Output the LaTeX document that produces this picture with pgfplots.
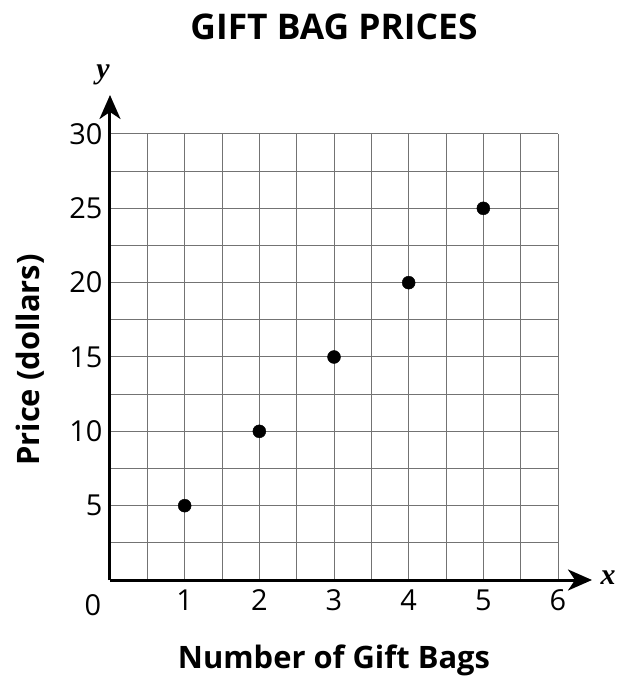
\documentclass[border=0pt]{standalone}
\usepackage{pgfplots}
\pgfplotsset{compat=1.18}
\usepackage{fontspec}
\setmainfont{Open Sans}
\newfontfamily\serifit{Liberation Serif}
\usetikzlibrary{arrows.meta}
\begin{document}
\begin{tikzpicture}
\begin{axis}[
 anchor=origin, at={(0,0)},
 scale only axis, width=448bp, height=446bp,
 xmin=0,xmax=6,ymin=0,ymax=30,
 axis lines=left,
 axis line style={line width=3bp, black},
 x axis line style={-{Stealth[length=24bp,width=21bp,inset=7bp]}, shorten >=-34bp},
 y axis line style={-{Stealth[length=24bp,width=21bp,inset=7bp]}, shorten >=-39bp},
 xtick={1,2,3,4,5,6}, ytick={5,10,15,20,25,30},
 minor xtick={0.5,1.5,2.5,3.5,4.5,5.5},
 minor ytick={2.5,7.5,12.5,17.5,22.5,27.5},
 grid=both,
 grid style={black!55, line width=1bp},
 major grid style={black!55, line width=1bp},
 minor grid style={black!55, line width=1bp},
 major tick length=0pt, minor tick length=0pt,
 tick label style={font=\fontsize{29}{29}\selectfont},
 xticklabel style={yshift=-6bp},
 yticklabel style={xshift=-4bp},
 /pgf/number format/assume math mode=true,
 clip=false,
]
\addplot[only marks, mark=*, mark size=6.5bp, black] coordinates {(1,5)(2,10)(3,15)(4,20)(5,25)};
\end{axis}
\node[font=\fontsize{35.5}{35.5}\selectfont\bfseries] at (224bp,553bp) {GIFT BAG PRICES};
\node[font=\fontsize{31}{31}\selectfont\bfseries, rotate=90] at (-80bp,220bp) {Price (dollars)};
\node[font=\fontsize{31}{31}\selectfont\bfseries] at (224bp,-80bp) {Number of Gift Bags};
\node[font=\fontsize{29}{29}\selectfont] at (-17bp,-25bp) {0};
\node[font=\fontsize{30}{30}\selectfont\serifit\bfseries\itshape] at (-7bp,505bp) {y};
\node[font=\fontsize{30}{30}\selectfont\serifit\bfseries\itshape] at (498bp,2bp) {x};
\pgfresetboundingbox
\path (-110bp,-99bp) rectangle (511bp,580bp);
\end{tikzpicture}
\end{document}
